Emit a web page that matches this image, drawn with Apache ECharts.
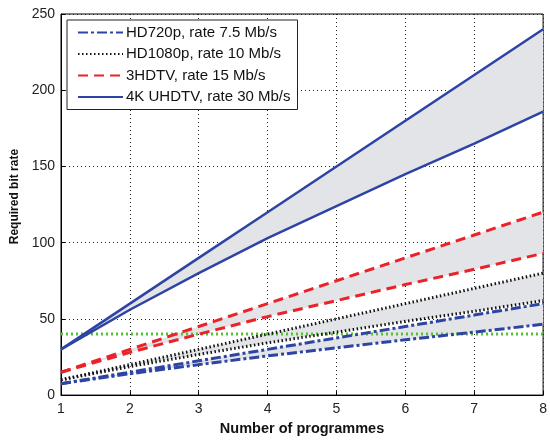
<!DOCTYPE html>
<html>
<head>
<meta charset="utf-8">
<script src="https://cdn.jsdelivr.net/npm/echarts@6/dist/echarts.min.js"></script>
<style>
  html, body { margin: 0; padding: 0; background: #fff; }
  #chart { width: 550px; height: 441px; }
</style>
</head>
<body>
<div id="chart"></div>
<script>
// number of programmes
const programmes = [1, 2, 3, 4, 5, 6, 7, 8];

// upper bound: rate x programmes, lower bound: with statistical multiplexing
const hd720Upper = [7.5, 15, 22.5, 30, 37.5, 45, 52.5, 60];
const hd720Lower = [7.5, 14, 20, 25.7, 31, 36.3, 41.3, 46.5];
const hd1080Upper = [10, 20, 30, 40, 50, 60, 70, 80];
const hd1080Lower = [10, 18.7, 26.7, 34.3, 41.3, 48.4, 55, 62];
const hdtv3Upper = [15, 30, 45, 60, 75, 90, 105, 120];
const hdtv3Lower = [15, 28, 40, 51.5, 62, 72.5, 82.5, 93];
const uhd4kUpper = [30, 60, 90, 120, 150, 180, 210, 240];
const uhd4kLower = [30, 56, 80, 103, 124, 145, 165, 186];
const threshold = [40, 40, 40, 40, 40, 40, 40, 40];

const yTicks = [0, 50, 100, 150, 200, 250];

const names = [
  'HD720p, rate 7.5 Mb/s',
  'HD1080p, rate 10 Mb/s',
  '3HDTV, rate 15 Mb/s',
  '4K UHDTV, rate 30 Mb/s'
];

const blue = '#2e44a4';
const red = '#ec2229';
const black = '#111111';
const green = '#55c234';
const shade = '#e3e4e7';

const chart = echarts.init(document.getElementById('chart'));

// grey band between lower and upper curves
function band(id, lower, upper) {
  return [
    {
      name: id + '-base', type: 'line', stack: id, data: lower,
      symbol: 'none', lineStyle: { opacity: 0 }, silent: true, z: 1
    },
    {
      name: id + '-band', type: 'line', stack: id,
      data: upper.map((v, i) => v - lower[i]),
      symbol: 'none', lineStyle: { opacity: 0 },
      areaStyle: { color: shade, opacity: 1 }, silent: true, z: 1
    }
  ];
}

function pair(name, upper, lower, color, type, width) {
  return [
    { name: name, type: 'line', data: upper, symbol: 'none',
      lineStyle: { color: color, type: type, width: width }, itemStyle: { color: color }, z: 3 },
    { name: name, type: 'line', data: lower, symbol: 'none',
      lineStyle: { color: color, type: type, width: width }, itemStyle: { color: color }, z: 3 }
  ];
}

const series = [].concat(
  band('uhd', uhd4kLower, uhd4kUpper),
  band('hdtv3', hdtv3Lower, hdtv3Upper),
  band('hd1080', hd1080Lower, hd1080Upper),
  band('hd720', hd720Lower, hd720Upper),
  [{
    name: 'threshold', type: 'line', data: threshold, symbol: 'none',
    lineStyle: { color: green, type: [2, 3], width: 3 }, z: 2
  }],
  pair(names[1], hd1080Upper, hd1080Lower, black, [1.5, 2.5], 3),
  pair(names[2], hdtv3Upper, hdtv3Lower, red, [10, 6], 3),
  pair(names[0], hd720Upper, hd720Lower, blue, [10, 3, 3, 3], 3),
  pair(names[3], uhd4kUpper, uhd4kLower, blue, 'solid', 2.5)
);

const option = {
  animation: false,
  backgroundColor: '#fff',
  textStyle: { fontFamily: 'Arial, Liberation Sans, sans-serif' },
  grid: {
    left: 61, right: 1, top: 14, bottom: 42,
    show: true, borderColor: '#000', borderWidth: 1
  },
  legend: {
    data: names,
    orient: 'vertical',
    left: 67, top: 20,
    backgroundColor: '#fff',
    borderColor: '#222',
    borderWidth: 1,
    padding: [5, 7, 5, 10],
    itemWidth: 45,
    itemHeight: 14,
    itemGap: 6.5,
    itemStyle: { opacity: 0 },
    textStyle: { fontSize: 15, color: '#111', padding: [0, 0, 0, -2] }
  },
  xAxis: {
    type: 'category',
    data: programmes,
    boundaryGap: false,
    name: 'Number of programmes',
    nameLocation: 'middle',
    nameGap: 25,
    nameTextStyle: { fontSize: 14.5, fontWeight: 'bold', color: '#111' },
    axisLine: { lineStyle: { color: '#000' } },
    axisTick: { inside: true, length: 4, lineStyle: { color: '#000' } },
    axisLabel: { fontSize: 14, color: '#222', margin: 7 },
    splitLine: { show: true, lineStyle: { color: '#222', type: [1, 3] } }
  },
  yAxis: {
    type: 'value',
    min: yTicks[0], max: yTicks[yTicks.length - 1], interval: 50,
    name: 'Required bit rate',
    nameLocation: 'middle',
    nameGap: 37,
    nameTextStyle: {
      fontSize: 12, fontWeight: 'bold', color: '#111',
      padding: [0, 0, 0, 16]
    },
    axisLine: { show: true, lineStyle: { color: '#000' } },
    axisTick: { show: true, inside: true, length: 4, lineStyle: { color: '#000' } },
    axisLabel: { fontSize: 14, color: '#222', margin: 6 },
    splitLine: { show: true, lineStyle: { color: '#222', type: [1, 3] } }
  },
  series: series
};

chart.setOption(option);
</script>
</body>
</html>
